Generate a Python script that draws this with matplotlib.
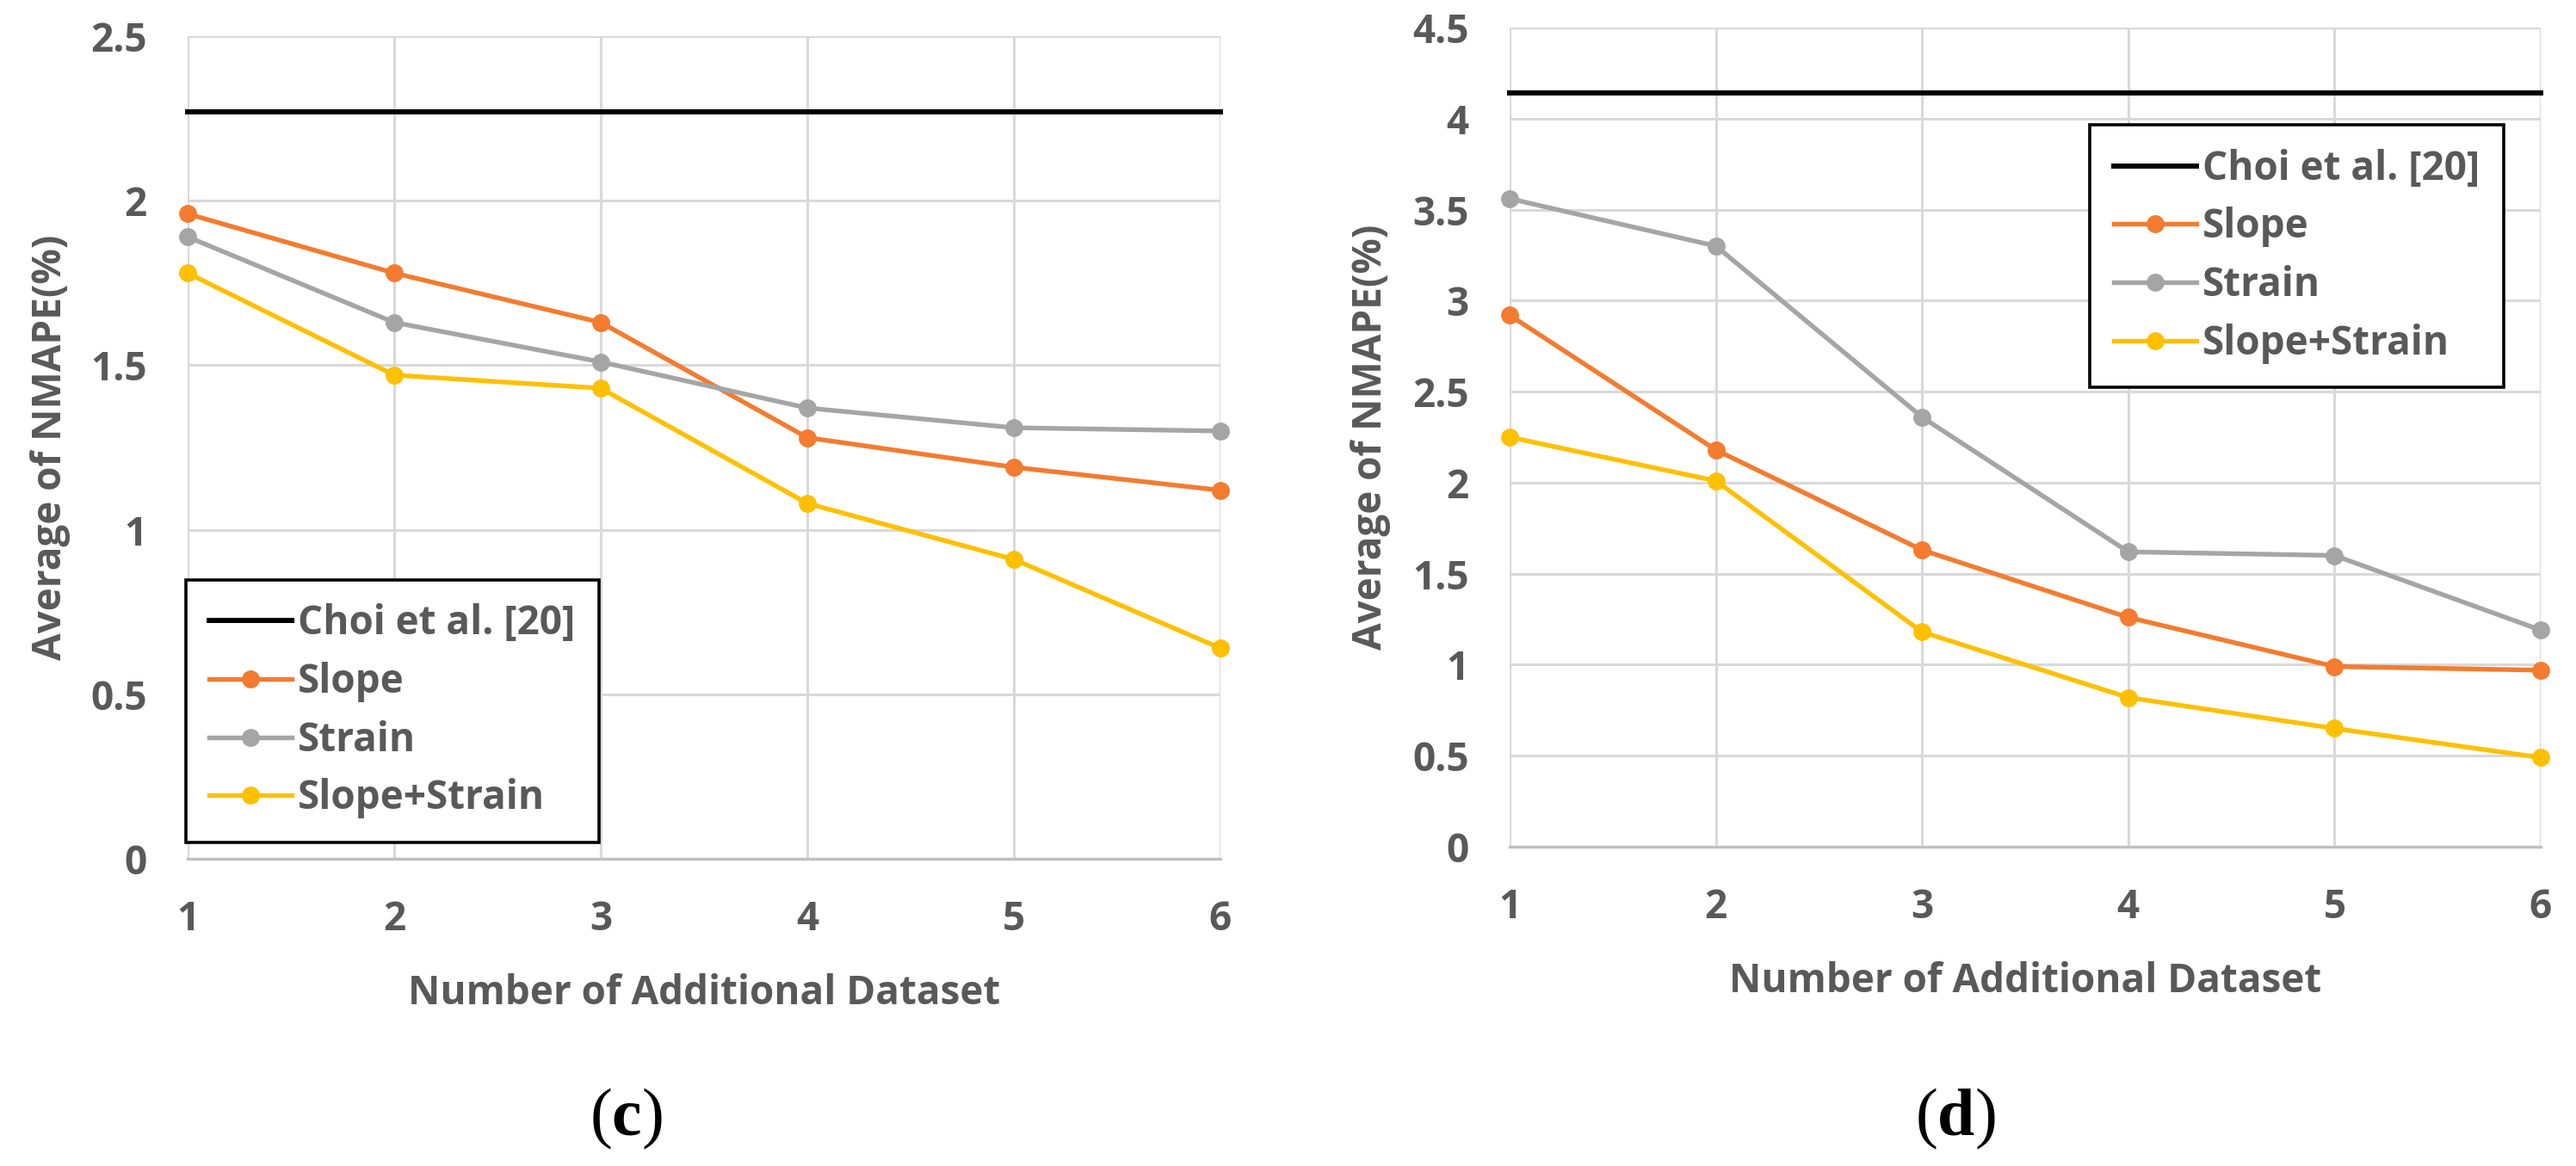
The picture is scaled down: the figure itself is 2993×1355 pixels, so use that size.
import matplotlib
matplotlib.use("Agg")
import matplotlib.pyplot as plt

# ---------------- data ----------------
x_vals = [1, 2, 3, 4, 5, 6]
series_names = ["Choi et al. [20]", "Slope", "Strain", "Slope+Strain"]

c_choi = 2.27
c_slope = [1.96, 1.78, 1.63, 1.28, 1.19, 1.12]
c_strain = [1.89, 1.63, 1.51, 1.37, 1.31, 1.30]
c_both = [1.78, 1.47, 1.43, 1.08, 0.91, 0.64]

d_choi = 4.14
d_slope = [2.92, 2.18, 1.63, 1.26, 0.99, 0.97]
d_strain = [3.56, 3.30, 2.36, 1.62, 1.60, 1.19]
d_both = [2.25, 2.01, 1.18, 0.82, 0.65, 0.49]

c_yticks = [0, 0.5, 1, 1.5, 2, 2.5]
c_yticklabels = ["0", "0.5", "1", "1.5", "2", "2.5"]
d_yticks = [0, 0.5, 1, 1.5, 2, 2.5, 3, 3.5, 4, 4.5]
d_yticklabels = ["0", "0.5", "1", "1.5", "2", "2.5", "3", "3.5", "4", "4.5"]

xlabel = "Number of Additional Dataset"
ylabel = "Average of NMAPE(%)"

# ---------------- style ----------------
W, H = 2993, 1355
DPI = 100
FONT = "Open Sans"
TXT = "#595959"
COL_CHOI = "#000000"
COL_SLOPE = "#F47B2F"
COL_STRAIN = "#A5A5A5"
COL_BOTH = "#FFC000"
GRID = "#D9D9D9"
FS = 33

plt.rcParams["font.family"] = [FONT, "DejaVu Sans"]
plt.rcParams["font.weight"] = "bold"

fig = plt.figure(figsize=(W / DPI, H / DPI), dpi=DPI)
fig.patch.set_facecolor("white")

ax_c = fig.add_axes([218 / W, 1 - 998 / H, 1200 / W, 956 / H])
ax_d = fig.add_axes([1754 / W, 1 - 984 / H, 1198 / W, 952 / H])


def draw(ax, choi, slope, strain, both, yticks, yticklabels, ymax, leg_anchor, ylab_x):
    ax.set_xlim(1, 6)
    ax.set_ylim(0, ymax)
    ax.set_yticks(yticks)
    ax.set_yticklabels(yticklabels)
    ax.set_xticks(x_vals)
    ax.set_xticklabels([str(v) for v in x_vals])
    ax.grid(True, color=GRID, linewidth=2.2, zorder=0)
    ax.set_axisbelow(True)
    for s in ["top", "right", "left"]:
        ax.spines[s].set_visible(False)
    ax.spines["bottom"].set_color("#BFBFBF")
    ax.spines["bottom"].set_linewidth(2.4)
    ax.tick_params(axis="both", length=0, labelsize=FS, labelcolor=TXT)
    ax.tick_params(axis="y", pad=34)
    ax.tick_params(axis="x", pad=34)
    for lab in ax.get_xticklabels() + ax.get_yticklabels():
        lab.set_fontweight("bold")

    lw = 3.9
    ms = 14
    ax.plot(x_vals, [choi] * len(x_vals), color=COL_CHOI, linewidth=4.3,
            label=series_names[0], clip_on=False, zorder=3)
    ax.plot(x_vals, slope, color=COL_SLOPE, linewidth=lw, marker="o", markersize=ms,
            label=series_names[1], clip_on=False, zorder=4)
    ax.plot(x_vals, strain, color=COL_STRAIN, linewidth=lw, marker="o", markersize=ms,
            label=series_names[2], clip_on=False, zorder=4)
    ax.plot(x_vals, both, color=COL_BOTH, linewidth=lw, marker="o", markersize=ms,
            label=series_names[3], clip_on=False, zorder=4)

    ax.set_xlabel(xlabel, fontsize=FS, color=TXT, fontweight="bold", labelpad=28)
    ax.set_ylabel(ylabel, fontsize=FS, color=TXT, fontweight="bold")
    ax.yaxis.set_label_coords(ylab_x, 0.5)

    leg = ax.legend(loc="upper left", bbox_to_anchor=leg_anchor, fontsize=FS,
                    frameon=True, fancybox=False, framealpha=1, edgecolor="black",
                    borderpad=0.6, labelspacing=0.45, handlelength=2.1,
                    handletextpad=0.15, borderaxespad=0, labelcolor=TXT)
    leg.get_frame().set_linewidth(2.6)
    for t in leg.get_texts():
        t.set_fontweight("bold")
    leg.set_zorder(10)


draw(ax_c, c_choi, c_slope, c_strain, c_both, c_yticks, c_yticklabels, 2.5,
     (-0.002, 0.339), -0.113)
draw(ax_d, d_choi, d_slope, d_strain, d_both, d_yticks, d_yticklabels, 4.5,
     (0.563, 0.881), -0.115)

plt.rcParams["mathtext.fontset"] = "custom"
plt.rcParams["mathtext.rm"] = "Liberation Serif"
plt.rcParams["mathtext.bf"] = "Liberation Serif:bold"
fig.text(727 / W, 1 - 1300 / H, r"($\mathbf{c}$)", fontsize=56, family="Liberation Serif",
         fontweight="normal", ha="center", va="center", color="black")
fig.text(2272 / W, 1 - 1300 / H, r"($\mathbf{d}$)", fontsize=56, family="Liberation Serif",
         fontweight="normal", ha="center", va="center", color="black")

fig.savefig("out.png", dpi=DPI, facecolor="white")
